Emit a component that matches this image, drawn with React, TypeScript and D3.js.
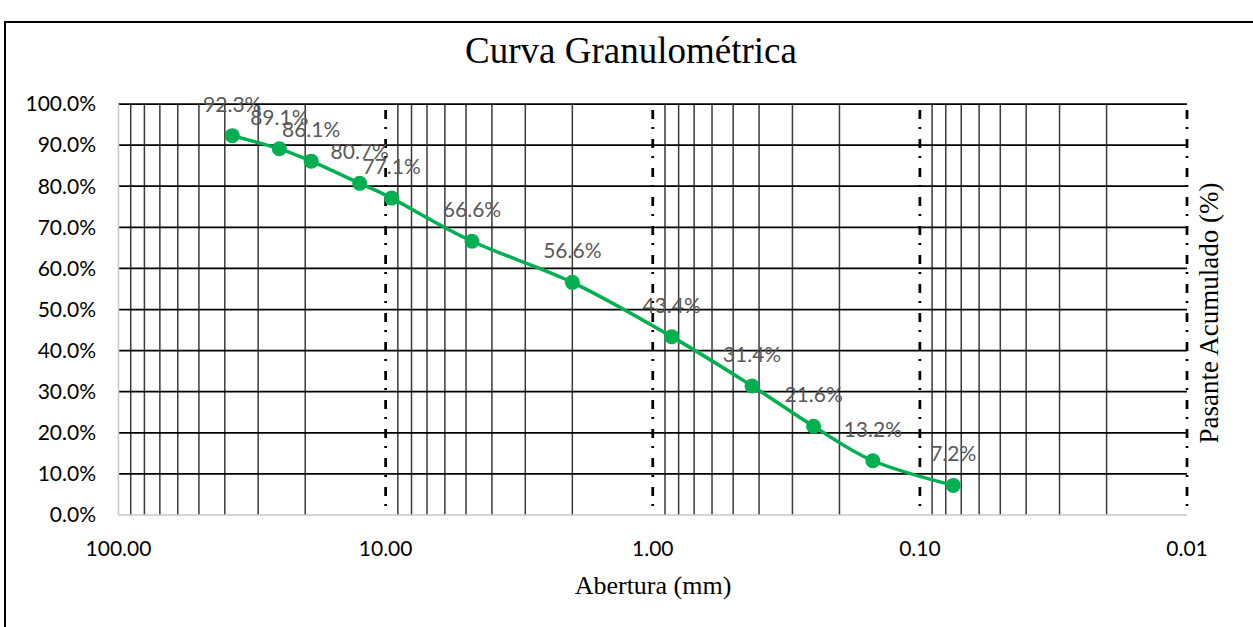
import React from "react";
import * as d3 from "d3";

const sieveSizes = [37.5, 25, 19, 12.5, 9.5, 4.75, 2.0, 0.85, 0.425, 0.25, 0.15, 0.075];
const passingPct = [92.3, 89.1, 86.1, 80.7, 77.1, 66.6, 56.6, 43.4, 31.4, 21.6, 13.2, 7.2];
const xTickValues = [100, 10, 1, 0.1, 0.01];
const yTickValues = [0, 10, 20, 30, 40, 50, 60, 70, 80, 90, 100];

const W = 1253;
const H = 627;
const X0 = 118.5;
const X1 = 1187;
const Y0 = 515;
const Y1 = 104;
const GREEN = "#00B050";
const SANS = "Lato, 'Open Sans', sans-serif";
const SERIF = "'Liberation Serif', 'Times New Roman', serif";

export default function App() {
  const x = d3.scaleLog().domain([100, 0.01]).range([X0, X1]);
  const y = d3.scaleLinear().domain([0, 100]).range([Y0, Y1]);
  const allTicks = x.ticks();
  const isPow10 = (v: number) => Math.abs(Math.log10(v) - Math.round(Math.log10(v))) < 1e-9;
  const minor = allTicks.filter((v) => !isPow10(v));
  const major = allTicks.filter((v) => isPow10(v) && v < 100);
  const pts: [number, number][] = sieveSizes.map((s, i) => [x(s), y(passingPct[i])]);
  const line = d3.line().curve(d3.curveCatmullRom.alpha(0))(pts) || "";

  return (
    <svg width={W} height={H} style={{ position: "absolute", left: 0, top: 0, background: "#fff" }}>
      <rect x={0} y={0} width={W} height={H} fill="#fff" />
      {/* outer border */}
      <rect x={5} y={22} width={W + 20} height={H + 20} fill="none" stroke="#000" strokeWidth={2} />
      {/* title */}
      <text x={631} y={63} textAnchor="middle" fontFamily={SERIF} fontSize={37} fill="#000">
        Curva Granulométrica
      </text>
      {/* minor vertical grid */}
      {minor.map((v) => (
        <line key={"mv" + v} x1={x(v)} x2={x(v)} y1={Y1} y2={Y0} stroke="#3a3a3a" strokeWidth={1.5} />
      ))}
      {/* horizontal grid */}
      {yTickValues.filter((v) => v > 0).map((v) => (
        <line key={"h" + v} x1={X0} x2={X1} y1={y(v)} y2={y(v)} stroke="#000" strokeWidth={1.75} />
      ))}
      {/* axes lines */}
      <line x1={X0} x2={X0} y1={Y1} y2={Y0} stroke="#c8c8c8" strokeWidth={1.5} />
      <line x1={X0} x2={X1} y1={Y0} y2={Y0} stroke="#c8c8c8" strokeWidth={1.5} />
      {/* major dash-dot lines */}
      {major.map((v) => (
        <line key={"M" + v} x1={x(v)} x2={x(v)} y1={Y1} y2={Y0} stroke="#000" strokeWidth={2.75}
          strokeDasharray="9,8,2,10" strokeDashoffset={23} />
      ))}
      {/* y tick labels */}
      {yTickValues.map((v) => (
        <text key={"yl" + v} x={96} y={y(v)} dy="0.35em" textAnchor="end" fontFamily={SANS} fontSize={21} fill="#000">
          {v.toFixed(1) + "%"}
        </text>
      ))}
      {/* x tick labels */}
      {xTickValues.map((v) => (
        <text key={"xl" + v} x={x(v)} y={556} textAnchor="middle" fontFamily={SANS} fontSize={21} fill="#000">
          {v.toFixed(2)}
        </text>
      ))}
      {/* series */}
      <path d={line} fill="none" stroke={GREEN} strokeWidth={3.5} />
      {pts.map((p, i) => (
        <circle key={"c" + i} cx={p[0]} cy={p[1]} r={7.5} fill={GREEN} />
      ))}
      {pts.map((p, i) => (
        <text key={"dl" + i} x={p[0]} y={p[1] - 24} textAnchor="middle" fontFamily={SANS} fontSize={21} fill="#595959">
          {passingPct[i].toFixed(1) + "%"}
        </text>
      ))}
      {/* axis titles */}
      <text x={653} y={594} textAnchor="middle" fontFamily={SERIF} fontSize={26} fill="#000">
        Abertura (mm)
      </text>
      <text transform="translate(1218,313) rotate(-90)" textAnchor="middle" fontFamily={SERIF} fontSize={27} fill="#000">
        Pasante Acumulado (%)
      </text>
    </svg>
  );
}
